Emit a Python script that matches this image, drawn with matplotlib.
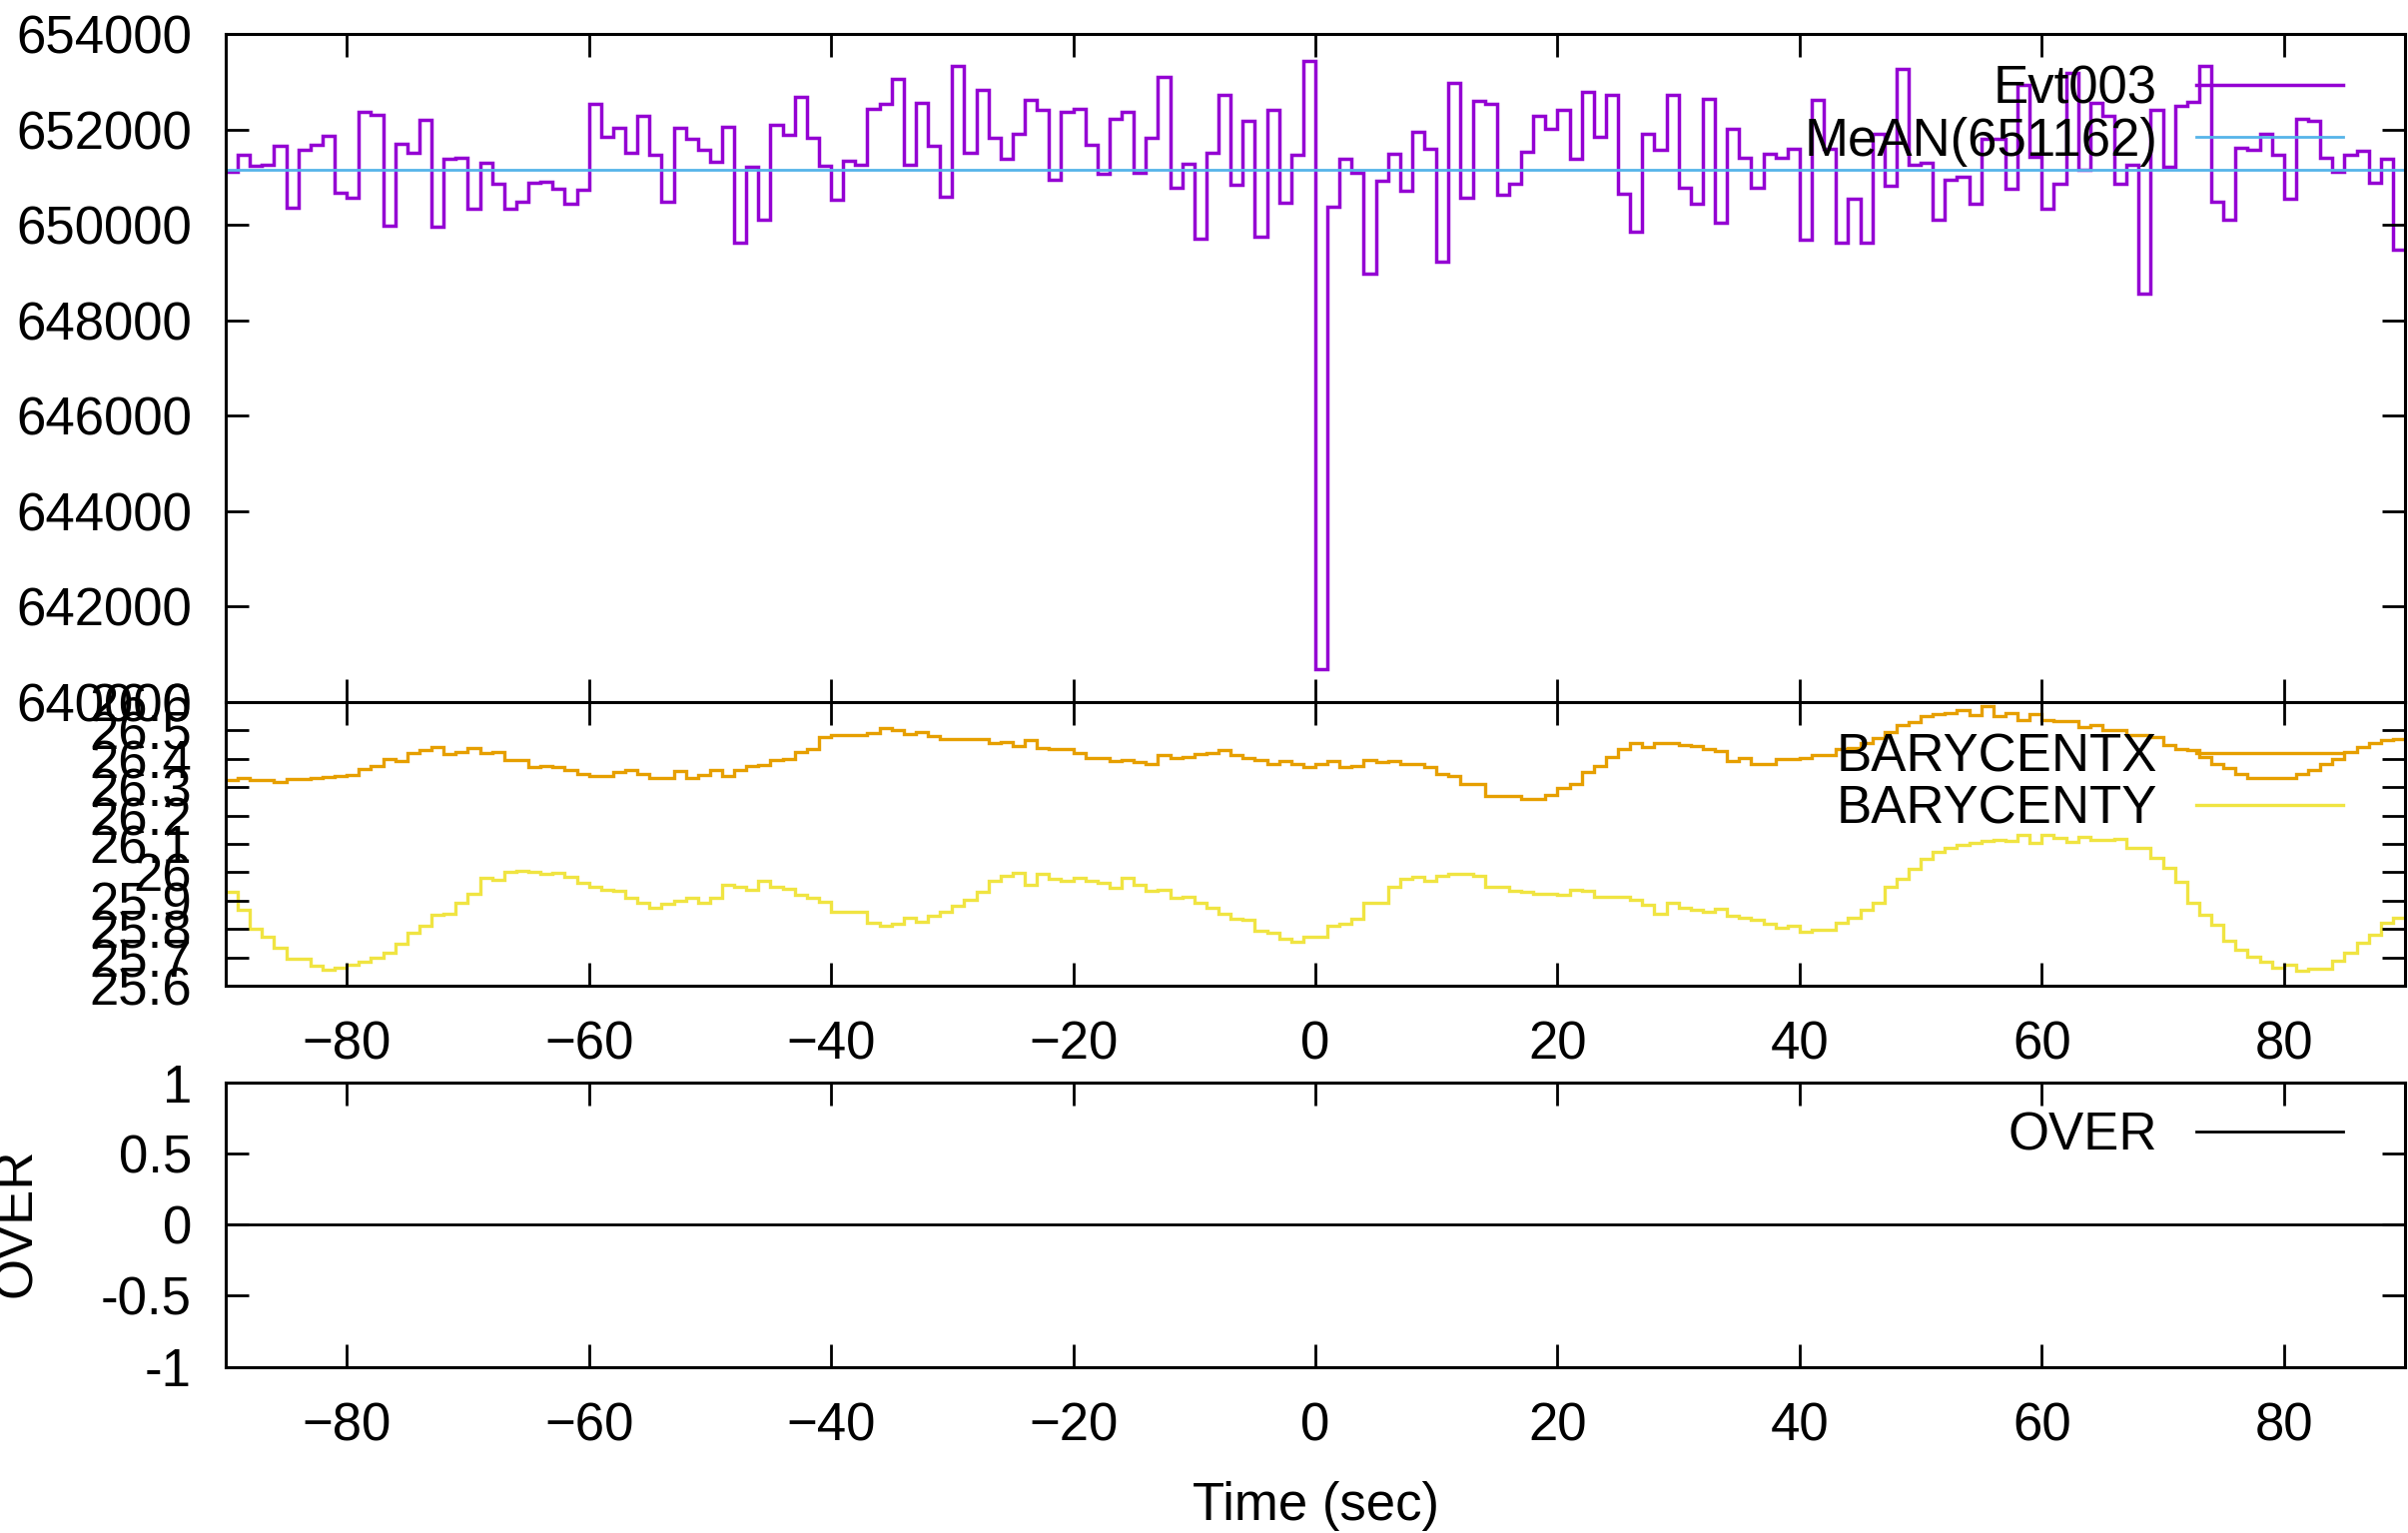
import numpy as np
import matplotlib
matplotlib.use('Agg')
import matplotlib.pyplot as plt
from matplotlib.ticker import FixedLocator, FuncFormatter

plt.rcParams['font.family'] = ['Liberation Sans', 'DejaVu Sans']
plt.rcParams['font.size'] = 38

# time bins: one value per second from -90 s to +90 s
t_start, t_stop = -90, 90

evt003 = [
    651115, 651477, 651240, 651268, 651665, 650369, 651582, 651686, 651861, 650676,
    650578, 652369, 652300, 649986, 651693, 651519, 652209, 649951, 651380, 651415,
    650334, 651310, 650871, 650334, 650474, 650892, 650906, 650766, 650439, 650732,
    652544, 651847, 652035, 651519, 652279, 651463, 650488, 652035, 651812, 651582,
    651324, 652056, 649617, 651219, 650104, 652091, 651882, 652683, 651826, 651233,
    650523, 651338, 651268, 652439, 652544, 653052, 651254, 652558, 651659, 650592,
    653324, 651519, 652822, 651833, 651394, 651916, 652627, 652404, 650941, 652369,
    652439, 651686, 651066, 652230, 652369, 651101, 651833, 653101, 650780, 651289,
    649707, 651519, 652718, 650850, 652174, 649742, 652418, 650453, 651477, 653429,
    640685, 650383, 651380, 651101, 648968, 650927, 651498, 650718, 651951, 651603,
    649233, 652976, 650571, 652592, 652544, 650641, 650857, 651533, 652279, 652007,
    652404, 651394, 652788, 651847, 652718, 650662, 649847, 651916, 651568, 652718,
    650787, 650432, 652648, 650035, 652021, 651401, 650767, 651498, 651415, 651589,
    649686, 652613, 651603, 649631, 650557, 649631, 651900, 650829, 653275, 651254,
    651310, 650104, 650941, 651010, 650439, 651812, 651812, 650766, 652927, 651429,
    650348, 650871, 653185, 651150, 652558, 652279, 650871, 651254, 648550, 652404,
    651219, 652488, 652578, 653324, 650488, 650104, 651614, 651565, 651916, 651474,
    650540, 652225, 652175, 651404, 651102, 651474, 651544, 650877, 651382, 649474,
]
mean_value = 651162

barycentx = [
    26.327, 26.333, 26.327, 26.324, 26.320, 26.328, 26.330, 26.331, 26.337, 26.340,
    26.342, 26.363, 26.375, 26.399, 26.392, 26.419, 26.430, 26.442, 26.416, 26.424,
    26.438, 26.419, 26.424, 26.395, 26.395, 26.372, 26.375, 26.372, 26.360, 26.348,
    26.340, 26.340, 26.354, 26.360, 26.348, 26.333, 26.333, 26.356, 26.333, 26.342,
    26.360, 26.340, 26.360, 26.375, 26.378, 26.395, 26.401, 26.424, 26.436, 26.477,
    26.485, 26.483, 26.485, 26.491, 26.509, 26.503, 26.489, 26.495, 26.481, 26.471,
    26.471, 26.469, 26.471, 26.454, 26.459, 26.445, 26.465, 26.438, 26.436, 26.433,
    26.422, 26.404, 26.404, 26.393, 26.395, 26.389, 26.383, 26.415, 26.403, 26.407,
    26.416, 26.421, 26.430, 26.413, 26.404, 26.397, 26.380, 26.392, 26.380, 26.372,
    26.380, 26.392, 26.372, 26.374, 26.395, 26.387, 26.392, 26.383, 26.383, 26.372,
    26.345, 26.340, 26.313, 26.310, 26.270, 26.270, 26.270, 26.260, 26.257, 26.274,
    26.296, 26.313, 26.352, 26.375, 26.407, 26.436, 26.456, 26.442, 26.457, 26.454,
    26.448, 26.444, 26.436, 26.427, 26.392, 26.404, 26.383, 26.382, 26.399, 26.401,
    26.403, 26.413, 26.413, 26.433, 26.438, 26.454, 26.474, 26.495, 26.518, 26.530,
    26.551, 26.557, 26.561, 26.573, 26.553, 26.586, 26.551, 26.563, 26.538, 26.556,
    26.536, 26.533, 26.532, 26.512, 26.518, 26.500, 26.500, 26.483, 26.483, 26.477,
    26.448, 26.436, 26.430, 26.407, 26.383, 26.368, 26.348, 26.331, 26.331, 26.333,
    26.331, 26.348, 26.362, 26.380, 26.401, 26.424, 26.442, 26.457, 26.465, 26.471,
]

barycenty = [
    25.930, 25.868, 25.801, 25.774, 25.733, 25.696, 25.696, 25.669, 25.657, 25.663,
    25.675, 25.684, 25.698, 25.716, 25.748, 25.786, 25.813, 25.851, 25.854, 25.892,
    25.924, 25.982, 25.974, 26.003, 26.006, 26.003, 25.995, 25.997, 25.985, 25.962,
    25.950, 25.938, 25.933, 25.909, 25.892, 25.874, 25.888, 25.900, 25.909, 25.892,
    25.911, 25.954, 25.948, 25.938, 25.970, 25.950, 25.941, 25.921, 25.909, 25.897,
    25.860, 25.860, 25.860, 25.821, 25.810, 25.819, 25.841, 25.827, 25.845, 25.860,
    25.880, 25.903, 25.930, 25.970, 25.988, 25.999, 25.956, 25.993, 25.976, 25.968,
    25.979, 25.970, 25.962, 25.944, 25.979, 25.956, 25.935, 25.938, 25.909, 25.915,
    25.892, 25.874, 25.853, 25.835, 25.831, 25.792, 25.786, 25.766, 25.755, 25.774,
    25.774, 25.813, 25.819, 25.837, 25.892, 25.892, 25.950, 25.977, 25.985, 25.970,
    25.989, 25.995, 25.993, 25.988, 25.947, 25.950, 25.936, 25.930, 25.924, 25.924,
    25.921, 25.938, 25.936, 25.915, 25.913, 25.915, 25.903, 25.886, 25.854, 25.892,
    25.874, 25.868, 25.862, 25.871, 25.847, 25.841, 25.831, 25.818, 25.804, 25.812,
    25.789, 25.798, 25.798, 25.821, 25.841, 25.868, 25.892, 25.950, 25.977, 26.011,
    26.046, 26.073, 26.087, 26.097, 26.105, 26.111, 26.114, 26.111, 26.132, 26.102,
    26.132, 26.120, 26.108, 26.126, 26.114, 26.114, 26.118, 26.087, 26.087, 26.050,
    26.015, 25.965, 25.892, 25.851, 25.815, 25.757, 25.728, 25.701, 25.683, 25.663,
    25.673, 25.652, 25.660, 25.660, 25.687, 25.716, 25.751, 25.780, 25.821, 25.839,
]

# OVER flag is zero over the whole window
over = [0] * 180

xticks = [-80, -60, -40, -20, 0, 20, 40, 60, 80]
yticks_top = [640000, 642000, 644000, 646000, 648000, 650000, 652000, 654000]
yticks_mid = [25.6, 25.7, 25.8, 25.9, 26.0, 26.1, 26.2, 26.3, 26.4, 26.5, 26.6]
yticks_bot = [-1, -0.5, 0, 0.5, 1]

edges = np.arange(t_start, t_stop + 1)

W, H = 2411, 1535
fig = plt.figure(figsize=(W / 100, H / 100), dpi=100)

def box(top, bottom, left=226, right=2408):
    return [left / W, 1 - bottom / H, (right - left) / W, (bottom - top) / H]

ax1 = fig.add_axes(box(34, 703))
ax2 = fig.add_axes(box(703, 987))
ax3 = fig.add_axes(box(1084, 1368.5))

fmt = FuncFormatter(lambda v, p: '%g' % round(v, 4))

for ax in (ax1, ax2, ax3):
    ax.set_xlim(t_start, t_stop)
    ax.xaxis.set_major_locator(FixedLocator(xticks))
    ax.tick_params(direction='in', length=16.5, width=2, top=True, right=True,
                   labelsize=38)
    ax.tick_params(axis='y', pad=24.5)
    ax.tick_params(axis='x', pad=25)
    ax.yaxis.set_major_formatter(fmt)
    for s in ax.spines.values():
        s.set_linewidth(2.2)

# top panel
ax1.stairs(evt003, edges, baseline=None, color='#9400d3', lw=2.5, label='Evt003')
ax1.axhline(mean_value, color='#56b4e9', lw=2.0, label='MeAN(%d)' % mean_value)
ax1.set_ylim(640000, 654000)
ax1.yaxis.set_major_locator(FixedLocator(yticks_top))
ax1.tick_params(axis='x', labelbottom=False)

# middle panel
ax2.stairs(barycentx, edges, baseline=None, color='#e69f00', lw=2.4, label='BARYCENTX')
ax2.stairs(barycenty, edges, baseline=None, color='#f0e442', lw=2.4, label='BARYCENTY')
ax2.set_ylim(25.6, 26.6)
ax2.yaxis.set_major_locator(FixedLocator(yticks_mid))

# bottom panel
ax3.stairs(over, edges, baseline=None, color='black', lw=2.0, label='OVER')
ax3.set_ylim(-1, 1)
ax3.yaxis.set_major_locator(FixedLocator(yticks_bot))
ax3.set_xlabel('Time (sec)', labelpad=21.5)

fig.text(42 / W, 1 - 1224 / H, 'OVER', rotation=90, ha='right', va='center')

anchor_x = (2346 - 226) / (2408 - 226)
for ax, ay in ((ax1, 0.955), (ax2, 0.894), (ax3, 0.900)):
    ax.legend(loc='upper right', bbox_to_anchor=(anchor_x, ay), frameon=False,
              markerfirst=False, handlelength=2.78, handletextpad=0.74,
              borderpad=0, borderaxespad=0, labelspacing=0.05, fontsize=38)

fig.savefig('out.png', dpi=100)
